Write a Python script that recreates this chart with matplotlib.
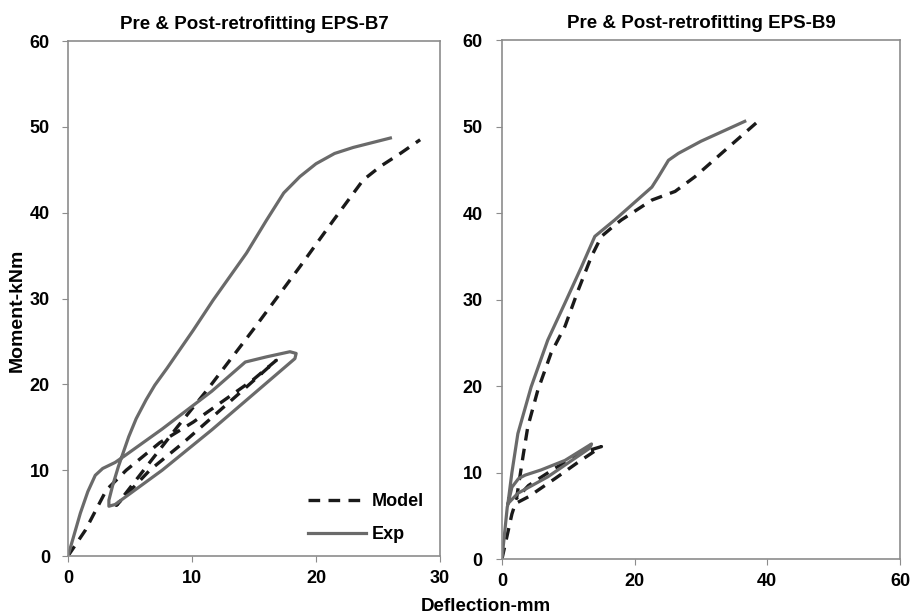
import matplotlib
matplotlib.use("Agg")
import matplotlib.pyplot as plt

plt.rcParams['font.family'] = ['Liberation Sans', 'DejaVu Sans']
plt.rcParams['font.weight'] = 'bold'

# EPS-B7 (left panel)
b7_exp_x = [0, 0.5, 1.0, 1.6, 2.2, 2.8, 3.8, 4.5, 7.6, 11.6, 14.3, 16.0, 17.9, 18.4, 18.3,
            11.6, 7.6, 3.8, 3.3, 3.3, 3.6, 4.06, 4.9, 5.5, 6.3, 7.0, 8.0, 9.0, 10.1, 11.7,
            14.4, 16.0, 17.4, 18.7, 20.0, 21.5, 23.0, 26.0]
b7_exp_y = [0, 2.5, 5.0, 7.5, 9.4, 10.2, 10.9, 11.6, 14.8, 19.2, 22.6, 23.2, 23.8, 23.6, 23.0,
            14.7, 10.0, 6.0, 5.8, 6.5, 8.2, 10.4, 13.9, 16.0, 18.2, 19.9, 21.9, 24.0, 26.3, 29.8,
            35.3, 39.1, 42.3, 44.2, 45.7, 46.9, 47.6, 48.7]
b7_mod_x = [0, 1.4, 3.1, 4.7, 7.4, 10.1, 14.9, 16.8, 14.4, 9.3, 6.6, 3.9,
            8.8, 11.2, 14.9, 18.7, 21.4, 23.8, 25.2, 26.8, 28.4]
b7_mod_y = [0, 3.0, 7.7, 10.0, 13.2, 15.6, 20.5, 22.8, 19.7, 13.2, 10.0, 5.9,
            15.0, 19.3, 26.3, 33.7, 39.1, 43.8, 45.4, 46.9, 48.5]

# EPS-B9 (right panel)
b9_exp_x = [0, 0.4, 0.8, 1.5, 2.5, 3.5, 5.9, 9.5, 13.5, 13.2, 6.9, 2.4, 0.9,
            1.5, 2.4, 4.4, 6.9, 9.5, 12.0, 14.0, 17.0, 22.6, 23.6, 25.1, 26.6, 30.0, 36.6]
b9_exp_y = [0, 3.0, 6.0, 8.3, 9.3, 9.7, 10.3, 11.4, 13.3, 12.8, 9.5, 7.6, 6.4,
            10.0, 14.5, 19.9, 25.3, 29.6, 33.8, 37.3, 39.2, 43.0, 44.2, 46.1, 46.9, 48.3, 50.6]
b9_mod_x = [0, 1.5, 2.0, 4.0, 8.0, 11.5, 15.0, 12.0, 8.0, 4.0, 2.2,
            2.6, 3.2, 3.9, 5.4, 7.4, 9.5, 11.5, 13.5, 15.0, 17.0, 18.0, 22.6, 26.1,
            29.1, 33.1, 38.6]
b9_mod_y = [0, 5.2, 6.4, 7.2, 9.3, 11.2, 13.0, 12.3, 10.5, 8.5, 7.0,
            9.0, 12.0, 15.3, 19.5, 23.8, 26.9, 31.1, 35.0, 37.3, 38.6, 39.2, 41.5, 42.5,
            44.2, 46.9, 50.6]

titles = ['Pre & Post-retrofitting EPS-B7', 'Pre & Post-retrofitting EPS-B9']
x_limits = [30, 60]
x_ticks = [[0, 10, 20, 30], [0, 20, 40, 60]]
y_ticks = [0, 10, 20, 30, 40, 50, 60]

exp_color = '#6a6a6a'
mod_color = '#1a1a1a'
spine_color = '#8c8c8c'

fig = plt.figure(figsize=(9.1, 6.16), dpi=100)
ax1 = fig.add_axes([0.0747, 0.0974, 0.4088, 0.836])
ax2 = fig.add_axes([0.5516, 0.0925, 0.4374, 0.8425])

data = [(b7_exp_x, b7_exp_y, b7_mod_x, b7_mod_y),
        (b9_exp_x, b9_exp_y, b9_mod_x, b9_mod_y)]

for i, ax in enumerate([ax1, ax2]):
    ex, ey, mx, my = data[i]
    ax.plot(mx, my, color=mod_color, lw=2.4, linestyle=(0, (3.5, 2.5)), label='Model')
    ax.plot(ex, ey, color=exp_color, lw=2.3, label='Exp', solid_joinstyle='round')
    ax.set_xlim(0, x_limits[i])
    ax.set_ylim(0, 60)
    ax.set_xticks(x_ticks[i])
    ax.set_yticks(y_ticks)
    for s in ax.spines.values():
        s.set_color(spine_color)
        s.set_linewidth(1.2)
    ax.tick_params(axis='both', length=4, color=spine_color, labelsize=13, pad=6)
    for lbl in ax.get_xticklabels() + ax.get_yticklabels():
        lbl.set_fontweight('bold')
    ax.set_title(titles[i], fontsize=13.5, fontweight='bold', pad=9)

ax1.tick_params(axis='y', pad=9)
ax2.tick_params(axis='y', pad=10)

leg = ax1.legend(loc='lower right', frameon=False, fontsize=13, handlelength=3.2,
                 handletextpad=0.3, labelspacing=0.9, bbox_to_anchor=(1.0, -0.007))
for t in leg.get_texts():
    t.set_fontweight('bold')

fig.text(0.019, 0.497, 'Moment-kNm', rotation=90, ha='center', va='center',
         fontsize=14, fontweight='bold')
fig.text(0.534, 0.016, 'Deflection-mm', ha='center', va='center',
         fontsize=13.5, fontweight='bold')

fig.savefig('out.png', dpi=100)
